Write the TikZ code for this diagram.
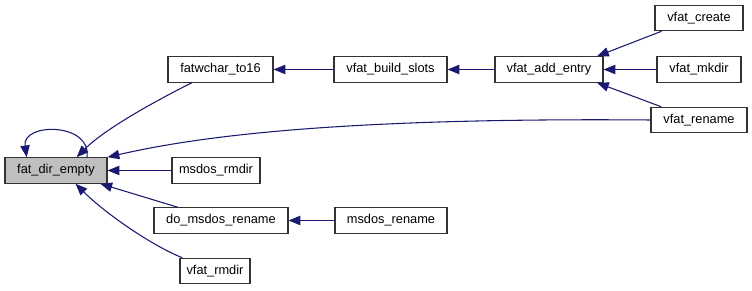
\documentclass[tikz,border=0pt]{standalone}
\usepackage{fontspec}
\setmainfont{Liberation Sans}
\usetikzlibrary{arrows.meta,calc}
\definecolor{edgeblue}{HTML}{191970}
\definecolor{boxgray}{HTML}{BFBFBF}
\begin{document}
\begin{tikzpicture}[x=0.75pt,y=-0.75pt,
  fn/.style={draw=black!80,line width=0.9pt,fill=white,inner sep=0pt,
    font=\fontsize{9.6}{11}\selectfont,minimum height=19pt},
  cur/.style={fn,fill=boxgray},
  edge/.style={draw=edgeblue,line width=0.8pt,
    -{Triangle[length=8.8pt,width=7pt,fill=edgeblue]}}]
\useasboundingbox (0,0) rectangle (752,291);
% function boxes
\node[cur,minimum width=76.5pt] (fde) at (56,170.5) {fat\_dir\_empty};
\node[fn,minimum width=78.75pt] (fw16) at (220.5,69.5) {fatwchar\_to16};
\node[fn,minimum width=84.75pt] (vbs) at (390.5,69.5) {vfat\_build\_slots};
\node[fn,minimum width=81pt] (vae) at (549,69.5) {vfat\_add\_entry};
\node[fn,minimum width=66pt] (vcr) at (699,18) {vfat\_create};
\node[fn,minimum width=63pt] (vmk) at (699,69.5) {vfat\_mkdir};
\node[fn,minimum width=72pt] (vrn) at (699,120) {vfat\_rename};
\node[fn,minimum width=66pt] (mrm) at (216,170.5) {msdos\_rmdir};
\node[fn,minimum width=100.5pt] (dmr) at (221,220.5) {do\_msdos\_rename};
\node[fn,minimum width=84pt] (mrn) at (391,220.5) {msdos\_rename};
\node[fn,minimum width=52.5pt] (vrm) at (215,271) {vfat\_rmdir};
% calls
\draw[edge] (vbs) -- (fw16);
\draw[edge] (vae) -- (vbs);
\draw[edge] (vmk) -- (vae);
\draw[edge] ($(vcr.south west)!0.08!(vcr.south east)$) -- ($(vae.north west)!0.94!(vae.north east)$);
\draw[edge] ($(vrn.north west)!0.11!(vrn.north east)$) -- ($(vae.south west)!0.94!(vae.south east)$);
\draw[edge] ($(fw16.south west)!0.23!(fw16.south east)$) .. controls +(-30,15) and +(30,-30) .. ($(fde.north west)!0.7!(fde.north east)$);
\draw[edge] (vrn.west) .. controls +(-250,-2) and +(120,-28) .. (fde.north east);
\draw[edge] ($(fde.north west)!0.8!(fde.north east)$) .. controls +(5,-35) and +(-5,-35) .. ($(fde.north west)!0.216!(fde.north east)$);
\draw[edge] (mrm) -- (fde);
\draw[edge] ($(dmr.north west)!0.18!(dmr.north east)$) -- ($(fde.south west)!0.93!(fde.south east)$);
\draw[edge] (mrn) -- (dmr);
\draw[edge] ($(vrm.north west)!0.04!(vrm.north east)$) .. controls +(-30,-12) and +(30,30) .. ($(fde.south west)!0.69!(fde.south east)$);
\end{tikzpicture}
\end{document}
